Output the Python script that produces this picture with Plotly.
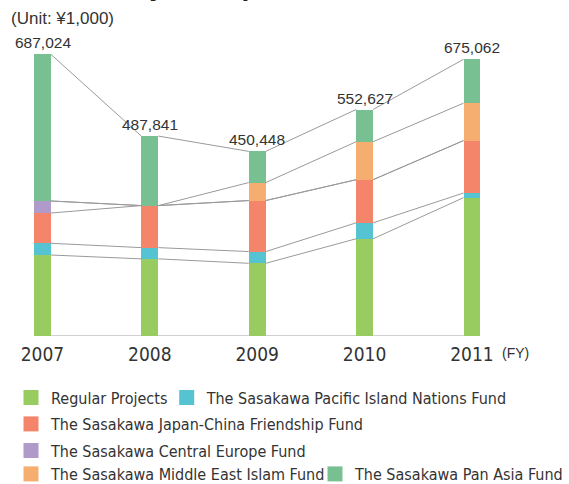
import numpy as np
import plotly.graph_objects as go

years = ["2007", "2008", "2009", "2010", "2011"]
totals = [687024, 487841, 450448, 552627, 675062]

series_names = [
    "Regular Projects",
    "The Sasakawa Pacific Island Nations Fund",
    "The Sasakawa Japan-China Friendship Fund",
    "The Sasakawa Central Europe Fund",
    "The Sasakawa Middle East Islam Fund",
    "The Sasakawa Pan Asia Fund",
]
regular = [197583, 188214, 177352, 237186, 337519]
pacific = [28612, 27468, 28619, 38957, 11426]
japan_china = [73904, 102537, 124516, 105243, 127874]
central_europe = [29318, 0, 0, 0, 0]
middle_east = [0, 0, 43871, 92638, 91207]
pan_asia = [357607, 169622, 76090, 78603, 107036]

colors = ["#98CB60", "#55C3D2", "#F4846A", "#B09ACA", "#F5AE70", "#78BF91"]

values = [regular, pacific, japan_china, central_europe, middle_east, pan_asia]

NARROW = "Liberation Sans Narrow, DejaVu Sans Condensed, Arial Narrow, sans-serif"
REG = "Liberation Sans, Arial, sans-serif"
TXT = "#333333"

x = np.arange(len(years))
bar_w = 0.158

fig = go.Figure()

# connector lines between cumulative segment tops
cum = np.cumsum(np.array(values, dtype=float), axis=0)
lx, ly = [], []
for level in cum:
    for i in range(len(years) - 1):
        lx += [x[i] + bar_w / 2, x[i + 1] - bar_w / 2, None]
        ly += [level[i], level[i + 1], None]
fig.add_trace(go.Scatter(x=lx, y=ly, mode="lines", line=dict(color="#9a9a9a", width=1),
                         showlegend=False, hoverinfo="skip"))

for name, vals, col in zip(series_names, values, colors):
    fig.add_trace(go.Bar(x=x, y=vals, name=name, marker=dict(color=col, line=dict(width=0)),
                         width=bar_w, showlegend=False))

# legend entries: one legend per entry, laid out like the original
legend_ids = ["legend", "legend2", "legend3", "legend4", "legend5", "legend6"]
legend_pos = [(27, 397.5), (182.7, 397.5), (27, 424), (27, 450.5), (27, 474), (331, 474)]
for name, col, lg in zip(series_names, colors, legend_ids):
    fig.add_trace(go.Scatter(x=[None], y=[None], mode="markers", name=name,
                             marker=dict(symbol="square", size=15, color=col, line=dict(width=0)),
                             legend=lg, showlegend=True))

# total labels
for xi, t in zip(x, totals):
    fig.add_annotation(x=xi, y=t, text=f"{t:,}", showarrow=False, yanchor="bottom",
                       yshift=1, font=dict(family=REG, size=15.5, color=TXT))

# baseline
fig.add_shape(type="line", x0=x[0], x1=x[-1], y0=0, y1=0, xref="x", yref="y",
              line=dict(color="#c0c0c0", width=1.5), layer="below")

fig.add_annotation(x=500 / 569, y=-17 / 336, xref="paper", yref="paper", text="(FY)",
                   showarrow=False, xanchor="left", yanchor="middle",
                   font=dict(family=REG, size=14, color=TXT))
fig.add_annotation(x=9 / 569, y=1 - 18 / 336, xref="paper", yref="paper", text="(Unit: ¥1,000)",
                   showarrow=False, xanchor="left", yanchor="middle",
                   font=dict(family=REG, size=17, color=TXT))
fig.add_annotation(x=30 / 569, y=1 - 3 / 336, xref="paper", yref="paper",
                   text="<b>Total Project Expenses</b>",
                   showarrow=False, xanchor="left", yanchor="bottom",
                   font=dict(family=REG, size=28, color="#222222"))

leg_common = dict(orientation="h", bgcolor="rgba(0,0,0,0)", borderwidth=0,
                  font=dict(family=NARROW, size=16, color=TXT), itemsizing="trace",
                  xanchor="left", yanchor="middle", traceorder="normal",
                  xref="container", yref="container",
                  itemclick=False, itemdoubleclick=False, tracegroupgap=0)

legends = {}
for lg, (sx, sy) in zip(legend_ids, legend_pos):
    legends[lg] = dict(x=(sx - 16) / 569, y=1 - sy / 484, **leg_common)

fig.update_layout(
    width=569, height=484,
    margin=dict(l=0, r=0, t=0, b=148, autoexpand=False),
    paper_bgcolor="white", plot_bgcolor="white",
    barmode="stack", bargap=0,
    showlegend=True,
    **legends,
    xaxis=dict(range=[-0.3958, 4.9034], tickvals=list(x), ticktext=years,
               showgrid=False, zeroline=False, showline=False, ticks="",
               ticklabelstandoff=5,
               tickfont=dict(family=NARROW, size=19, color=TXT), fixedrange=True),
    yaxis=dict(range=[0, 819840], visible=False, fixedrange=True),
)

fig.write_html("out.html")
